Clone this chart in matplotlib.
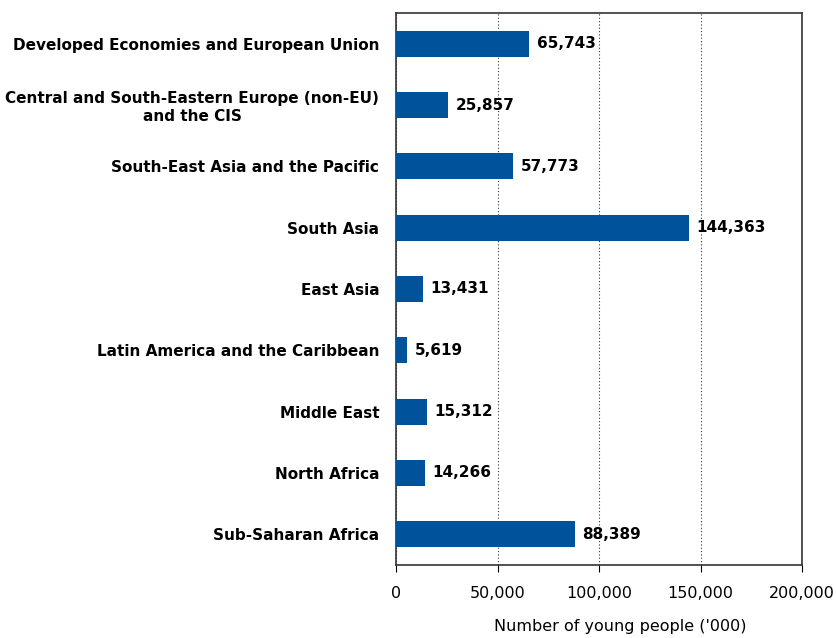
import matplotlib
matplotlib.use("Agg")
import matplotlib.pyplot as plt
from matplotlib.ticker import FuncFormatter

categories = [
    "Developed Economies and European Union",
    "Central and South-Eastern Europe (non-EU)\nand the CIS",
    "South-East Asia and the Pacific",
    "South Asia",
    "East Asia",
    "Latin America and the Caribbean",
    "Middle East",
    "North Africa",
    "Sub-Saharan Africa",
]
values = [65743, 25857, 57773, 144363, 13431, 5619, 15312, 14266, 88389]
xticks = [0, 50000, 100000, 150000, 200000]
xlabel = "Number of young people ('000)"

plt.rcParams['font.family'] = ['DejaVu Sans']
fig = plt.figure(figsize=(8.36, 6.38), dpi=100)
ax = fig.add_axes([396/836, 1-565/638, (802-396)/836, (565-13)/638])

ypos = list(range(len(categories)))
ax.barh(ypos, values, height=0.42, color="#00539B", zorder=3)
ax.set_ylim(len(categories)-0.5, -0.5)
ax.set_xlim(0, 200000)
ax.set_yticks(ypos)
ax.set_yticklabels(categories, fontsize=11, fontweight="bold", ha="right")
for lbl in ax.get_yticklabels():
    lbl.set_multialignment("center")
ax.tick_params(axis="y", length=0, pad=12)
ax.set_xticks(xticks)
ax.xaxis.set_major_formatter(FuncFormatter(lambda v, p: f"{int(v):,}"))
ax.tick_params(axis="x", labelsize=11.5, length=5, direction="out", pad=10)
ax.set_xlabel(xlabel, fontsize=11.5, va="top")
ax.xaxis.set_label_coords(0.552, -0.098)
ax.grid(axis="x", linestyle=(0, (1, 2)), color="#333333", linewidth=0.8, zorder=0)
for s in ax.spines.values():
    s.set_color("#333333")
    s.set_linewidth(1.2)

for y, v in zip(ypos, values):
    ax.text(v + 3500, y, f"{v:,}", va="center", ha="left", fontsize=11, fontweight="bold", zorder=4)

fig.savefig("out.png", dpi=100)
